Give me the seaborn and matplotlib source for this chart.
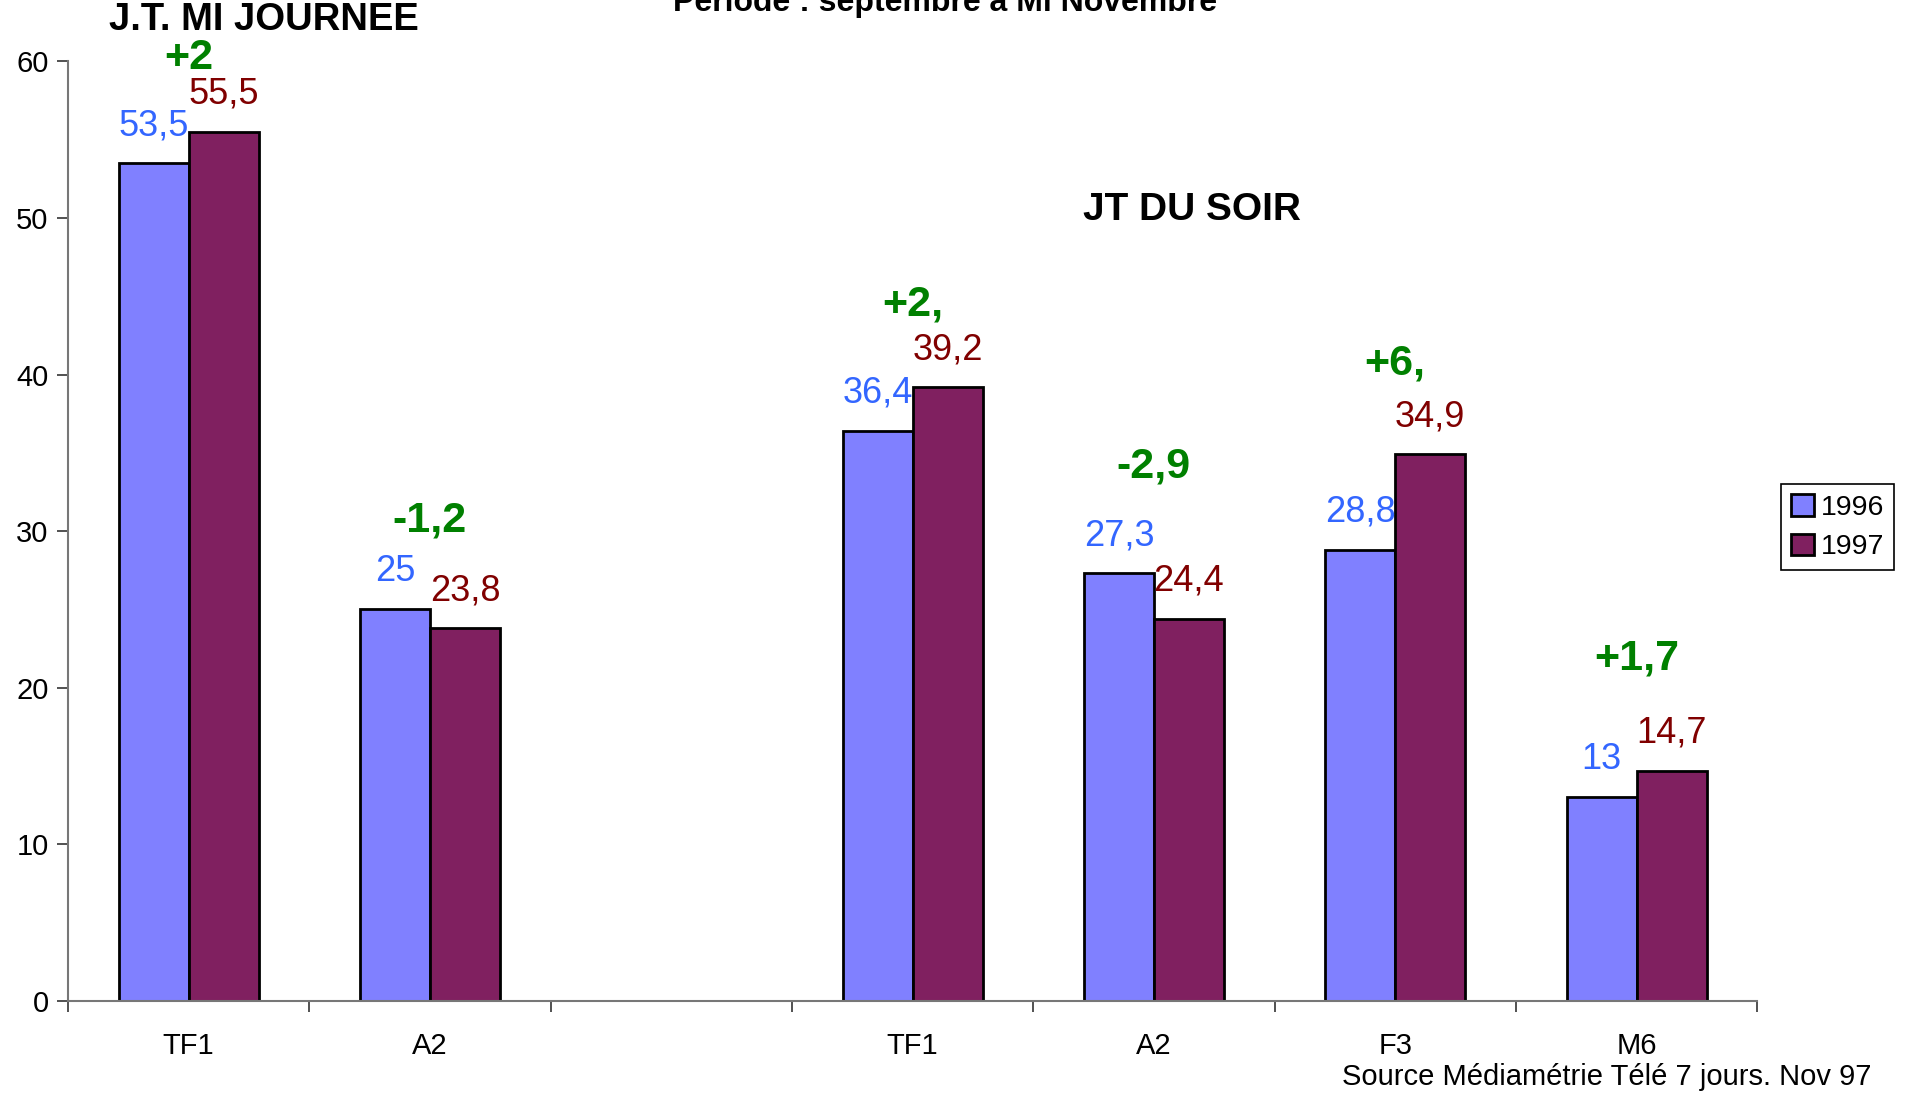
#!/usr/bin/env python3
"""Audience des JT : 1996 vs 1997 (septembre à mi-novembre)."""

import matplotlib

matplotlib.use("Agg")
import matplotlib.pyplot as plt
import pandas as pd
import seaborn as sns

SLOTS = ["TF1 midi", "A2 midi", "vide", "TF1 soir", "A2 soir", "F3 soir", "M6 soir"]
SLOT_LABELS = ["TF1", "A2", "", "TF1", "A2", "F3", "M6"]
CHANNELS = ["TF1 midi", "A2 midi", "TF1 soir", "A2 soir", "F3 soir", "M6 soir"]
VALUES_1996 = [53.5, 25, 36.4, 27.3, 28.8, 13]
VALUES_1997 = [55.5, 23.8, 39.2, 24.4, 34.9, 14.7]
DIFF_LABELS = ["+2", "-1,2", "+2,", "-2,9", "+6,", "+1,7"]
YEARS = ["1996", "1997"]

# how far above the taller bar each green label sits (y units)
DIFF_OFFSETS = [4.7, 5.7, 5.3, 6.8, 5.8, 7.2]

BAR_COLORS = {"1996": "#8080FF", "1997": "#802060"}
LABEL_COLORS = {"1996": "#3366FF", "1997": "#800000"}
GREEN = "#008000"


def fmt(v):
    return f"{v:g}".replace(".", ",")


def main() -> None:
    df = pd.DataFrame(
        {
            "slot": CHANNELS * 2,
            "year": [YEARS[0]] * len(CHANNELS) + [YEARS[1]] * len(CHANNELS),
            "value": VALUES_1996 + VALUES_1997,
        }
    )

    sns.set_theme(style="white")
    plt.rcParams["font.family"] = ["Liberation Sans", "DejaVu Sans"]
    plt.rcParams["text.color"] = "black"
    plt.rcParams["xtick.color"] = "black"
    plt.rcParams["ytick.color"] = "black"

    fig = plt.figure(figsize=(19.10, 10.96), dpi=100)
    ax = fig.add_axes([0.0356, 0.0867, 0.8844, 0.8573])

    sns.barplot(
        data=df,
        x="slot",
        y="value",
        hue="year",
        order=SLOTS,
        hue_order=YEARS,
        palette=BAR_COLORS,
        width=0.58,
        edgecolor="black",
        linewidth=2,
        saturation=1,
        ax=ax,
    )

    ax.set_xlim(-0.5, len(SLOTS) - 0.5)
    ax.set_ylim(0, 60)
    ax.set_xlabel("")
    ax.set_ylabel("")

    # category labels in the middle, tick marks on the slot boundaries
    ax.set_xticks(range(len(SLOTS)))
    ax.set_xticklabels(SLOT_LABELS, fontsize=21)
    ax.set_xticks([i - 0.5 for i in range(len(SLOTS) + 1)], minor=True)
    ax.tick_params(axis="x", which="major", bottom=True, length=0, pad=22)
    ax.tick_params(axis="x", which="minor", bottom=True, length=8, width=1.2,
                   color="#333333", direction="out")
    ax.set_yticks(range(0, 61, 10))
    ax.tick_params(axis="y", left=True, length=8, width=1.2, color="#333333",
                   direction="out", labelsize=21, pad=6)

    for side in ["top", "right"]:
        ax.spines[side].set_visible(False)
    for side in ["left", "bottom"]:
        ax.spines[side].set_color("#777777")
        ax.spines[side].set_linewidth(1.5)

    # value labels
    tops = {}
    for year, container in zip(YEARS, ax.containers):
        for bar in container:
            h = bar.get_height()
            if pd.isna(h) or h == 0:
                continue
            cx = bar.get_x() + bar.get_width() / 2
            ax.text(cx, h + 2.4, fmt(h), ha="center", va="center",
                    fontsize=26, color=LABEL_COLORS[year])
            tops.setdefault(round(cx), []).append(h)

    for slot, label, off in zip(sorted(tops), DIFF_LABELS, DIFF_OFFSETS):
        ax.text(slot, max(tops[slot]) + off, label, ha="center", va="center",
                fontsize=31, fontweight="bold", color=GREEN)

    fig.text(0.138, 0.982, "J.T. MI JOURNEE", ha="center", va="center",
             fontsize=27.5, fontweight="bold")
    fig.text(0.495, 0.997, "Période : septembre à Mi Novembre", ha="center", va="center",
             fontsize=23, fontweight="bold")
    fig.text(0.624, 0.808, "JT DU SOIR", ha="center", va="center",
             fontsize=28, fontweight="bold")
    fig.text(0.980, 0.0175, "Source Médiamétrie Télé 7 jours. Nov 97", ha="right", va="center",
             fontsize=21)

    handles, labels = ax.get_legend_handles_labels()
    leg = ax.legend(
        handles, labels,
        loc="center left",
        bbox_to_anchor=(0.9325, 0.519),
        bbox_transform=fig.transFigure,
        fontsize=20.5,
        frameon=True,
        fancybox=False,
        edgecolor="black",
        framealpha=1,
        handlelength=0.8,
        handleheight=0.8,
        handletextpad=0.25,
        borderpad=0.35,
        borderaxespad=0,
        labelspacing=0.45,
    )
    leg.get_frame().set_linewidth(1.2)

    fig.savefig("out.png", dpi=100)


if __name__ == "__main__":
    main()
